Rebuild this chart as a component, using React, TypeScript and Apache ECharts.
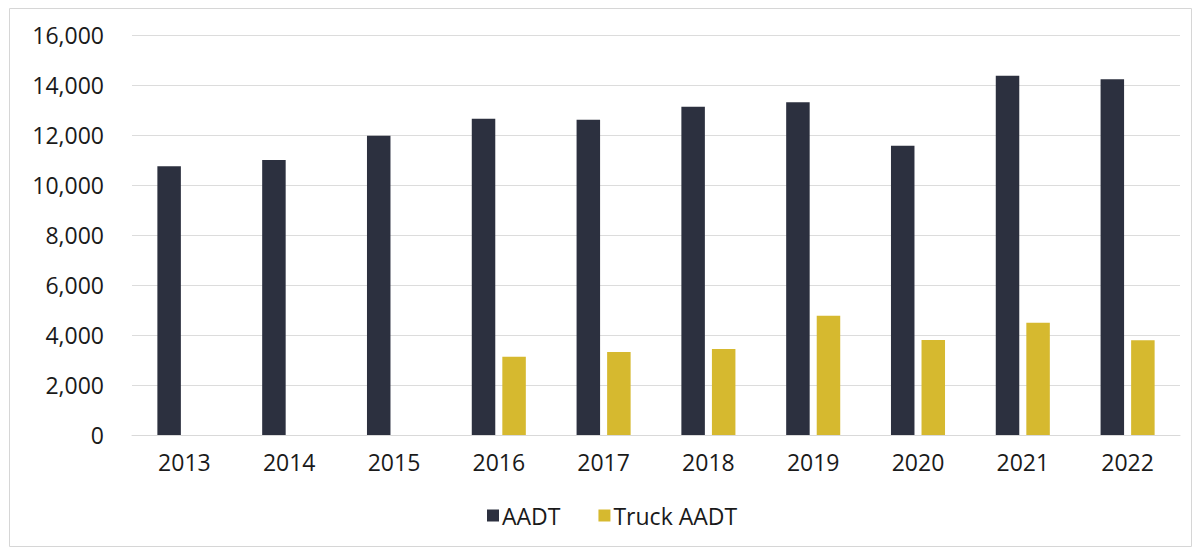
import React, { useEffect, useRef } from "react";
import * as echarts from "echarts";

const years = ["2013", "2014", "2015", "2016", "2017", "2018", "2019", "2020", "2021", "2022"];
const aadt = [10750, 11000, 11970, 12650, 12610, 13130, 13310, 11570, 14370, 14230];
const truckAadt = [null, null, null, 3130, 3320, 3440, 4770, 3800, 4490, 3790];
const yTicks = { min: 0, max: 16000, interval: 2000 };

const FONT = "'Open Sans', sans-serif";

export default function App() {
  const ref = useRef<HTMLDivElement>(null);
  useEffect(() => {
    if (!ref.current) return;
    const chart = echarts.init(ref.current, undefined, { renderer: "svg" });
    chart.setOption({
      animation: false,
      backgroundColor: "#ffffff",
      graphic: [
        {
          type: "rect",
          shape: { x: 9.5, y: 8.5, width: 1182, height: 538 },
          style: { fill: "none", stroke: "#d6d6d6", lineWidth: 1 },
          silent: true,
        },
      ],
      grid: { left: 132, right: 20, top: 35, bottom: 120, containLabel: false },
      legend: {
        left: 482,
        top: 499,
        itemWidth: 12,
        itemHeight: 12,
        itemGap: 38,
        icon: "rect",
        textStyle: { fontFamily: FONT, fontSize: 23, color: "#1a1a1a", padding: [0, 0, 0, -2] },
        data: ["AADT", "Truck AADT"],
      },
      xAxis: {
        type: "category",
        data: years,
        axisLine: { show: true, lineStyle: { color: "#d9d9d9", width: 1 } },
        axisTick: { show: false },
        axisLabel: { fontFamily: FONT, fontSize: 23, color: "#1a1a1a", margin: 15 },
      },
      yAxis: {
        type: "value",
        min: yTicks.min,
        max: yTicks.max,
        interval: yTicks.interval,
        axisLine: { show: false },
        axisTick: { show: false },
        splitLine: { lineStyle: { color: "#dcdcdc", width: 1 } },
        axisLabel: {
          fontFamily: FONT,
          fontSize: 23,
          color: "#1a1a1a",
          margin: 28,
          formatter: (v: number) => v.toLocaleString("en-US"),
        },
      },
      series: [
        {
          name: "AADT",
          type: "bar",
          data: aadt,
          barWidth: 23.5,
          barGap: "30%",
          itemStyle: { color: "#2c303f" },
        },
        {
          name: "Truck AADT",
          type: "bar",
          data: truckAadt,
          barWidth: 23.5,
          barGap: "30%",
          itemStyle: { color: "#d6b92f" },
        },
      ],
    });
    return () => chart.dispose();
  }, []);
  return (
    <div
      ref={ref}
      style={{ position: "fixed", left: 0, top: 0, width: 1200, height: 555, background: "#fff" }}
    />
  );
}
